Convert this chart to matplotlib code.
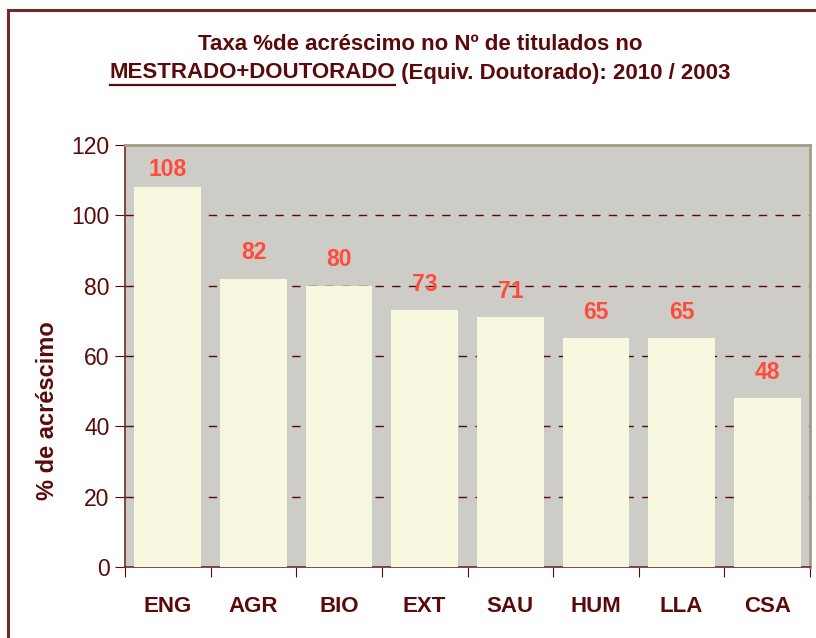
import matplotlib.pyplot as plt
from matplotlib.lines import Line2D

# data
categories = ["ENG", "AGR", "BIO", "EXT", "SAU", "HUM", "LLA", "CSA"]
values = [108, 82, 80, 73, 71, 65, 65, 48]
y_ticks = [0, 20, 40, 60, 80, 100, 120]

dark = "#5A0A0A"
W, H = 816, 638

plt.rcParams['font.family'] = ['Liberation Sans', 'DejaVu Sans']

fig = plt.figure(figsize=(W / 100, H / 100), dpi=100)
fig.patch.set_facecolor("white")

# outer frame (only top and left edges visible in the reference)
fig.add_artist(Line2D([8 / W, 8 / W], [0, 1 - 10 / H], color="#6E2A2A", lw=2.2))
fig.add_artist(Line2D([8 / W, 1], [1 - 10 / H, 1 - 10 / H], color="#6E2A2A", lw=2.2))

ax = fig.add_axes([125 / W, 1 - 567 / H, (810 - 125) / W, (567 - 145) / H])
ax.set_facecolor("#CDCCC7")

x = range(len(categories))
ax.bar(x, values, width=0.78, color="#F8F8E0", zorder=3)
for xi, v in zip(x, values):
    ax.text(xi, min(v + 7.3, 113), str(v), ha="center", va="center", color="#FF4B3C",
            fontsize=16.5, fontweight="bold", zorder=4)

ax.set_xlim(-0.5, len(categories) - 0.5)
ax.set_ylim(0, 120)
ax.set_yticks(y_ticks)
ax.set_yticklabels([str(t) for t in y_ticks], fontsize=16.5, color=dark)
for t in y_ticks[1:-1]:
    ax.axhline(t, color=dark, lw=1, ls=(0, (6, 6)), zorder=2)

ax.set_xticks([i - 0.5 for i in range(len(categories) + 1)], minor=False)
ax.set_xticklabels([])
ax.set_xticks(list(x), minor=True)
ax.set_xticklabels(categories, minor=True, fontsize=16, fontweight="bold", color=dark)
ax.tick_params(axis="x", which="minor", length=0, pad=21)
ax.tick_params(axis="x", which="major", length=7, color=dark, direction="out")
ax.tick_params(axis="y", length=7, color=dark, direction="out", pad=4)

for side in ["left", "bottom"]:
    ax.spines[side].set_color("#6E2A2A")
    ax.spines[side].set_linewidth(1.2)
for side in ["top", "right"]:
    ax.spines[side].set_color("#A39C88")
    ax.spines[side].set_linewidth(2)

fig.text(48 / W, 1 - 411 / H, "% de acréscimo", rotation=90, ha="center", va="center",
         fontsize=17, fontweight="bold", color=dark)

# title, second line partly underlined
cx = 420
fig.text(cx / W, 1 - 45 / H, "Taxa %de acréscimo no Nº de titulados no", ha="center", va="center",
         fontsize=16, fontweight="bold", color=dark)
fig.canvas.draw()
r = fig.canvas.get_renderer()
t1 = fig.text(0, 1 - 73 / H, "MESTRADO+DOUTORADO", ha="left", va="center",
              fontsize=16, fontweight="bold", color=dark)
t2 = fig.text(0, 1 - 73 / H, " (Equiv. Doutorado): 2010 / 2003", ha="left", va="center",
              fontsize=16, fontweight="bold", color=dark)
w1 = t1.get_window_extent(r).width
w2 = t2.get_window_extent(r).width
x0 = cx - (w1 + w2) / 2
t1.set_x(x0 / W)
t2.set_x((x0 + w1) / W)
uy = 1 - 85 / H
fig.add_artist(Line2D([x0 / W, (x0 + w1) / W], [uy, uy], color=dark, lw=1.6))

fig.savefig("out.png", dpi=100)
